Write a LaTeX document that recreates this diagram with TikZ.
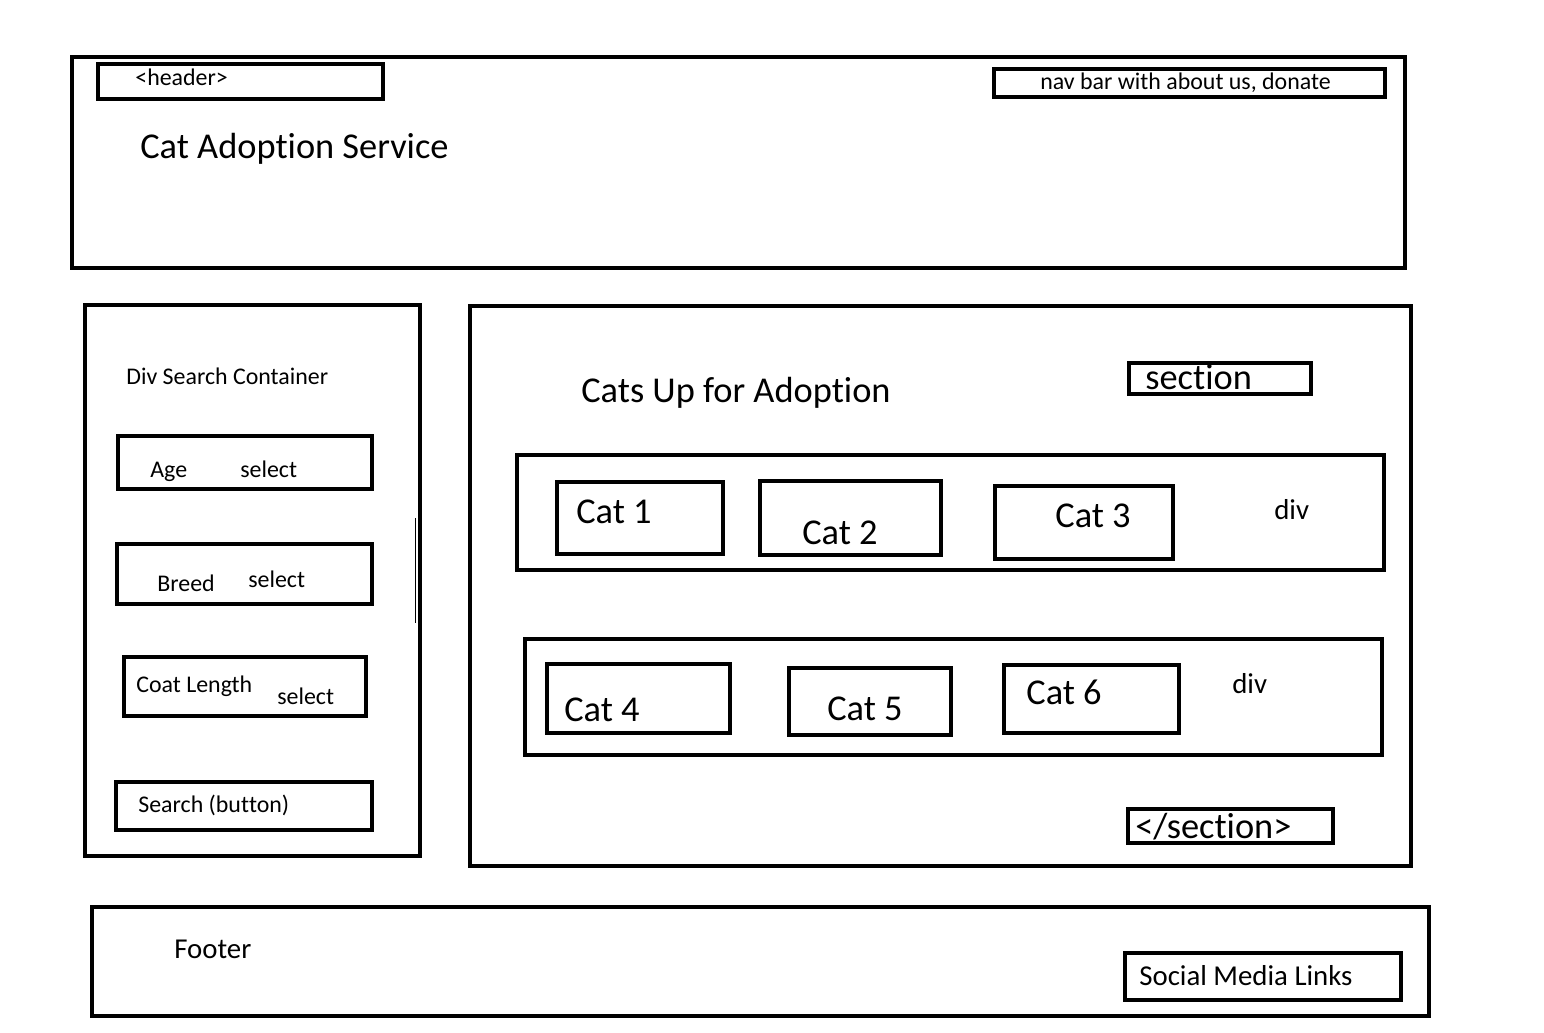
\documentclass[tikz,border=0pt]{standalone}
\usepackage{fontspec}
\setmainfont{Carlito}[RawFeature={-liga;-clig;-calt;-dlig}]
\newcommand{\nolig}{\kern0pt}
\begin{document}
\begin{tikzpicture}[x=0.02cm, y=-0.02cm,
        box/.style={line width=2.6pt},
        txts/.style={anchor=base west, inner sep=0pt, font=\fontsize{13.6}{16}\selectfont},
        txtm/.style={anchor=base west, inner sep=0pt, font=\fontsize{16.4}{19}\selectfont},
        txtl/.style={anchor=base west, inner sep=0pt, font=\fontsize{20.7}{24}\selectfont}]
        \useasboundingbox (0, 0) rectangle (1544, 1033);

        % header
        \draw[box] (72, 57) rectangle (1405, 268);
        \draw[box] (98, 64) rectangle (383, 99);
        \draw[box] (994, 69) rectangle (1385, 97);
        \node[txts] (H1) at (135, 86) {<header>};
        \node[txts] (H2) at (1040, 90) {nav bar with about us, donate};
        \node[txtl] (H3) at (140, 159) {Cat Adopt\nolig ion Service};

        % search container
        \draw[box] (85, 305) rectangle (420, 856);
        \draw[line width=0.6pt] (415.5, 518) -- (415.5, 623);
        \draw[box] (118, 436) rectangle (372, 489);
        \draw[box] (117, 544) rectangle (372, 604);
        \draw[box] (124, 657) rectangle (366, 716);
        \draw[box] (116, 782) rectangle (372, 830);
        \node[txts] (S0) at (126, 385) {Div Search Container};
        \node[txts] (S1) at (150, 478) {Age};
        \node[txts] (S2) at (240, 478) {select};
        \node[txts] (S3) at (157, 591) {Breed};
        \node[txts] (S4) at (248, 587) {select};
        \node[txts] (S5) at (136, 692) {Coat Length};
        \node[txts] (S6) at (277, 704) {select};
        \node[txts] (S7) at (138, 812) {Search (but\nolig ton)};

        % section
        \draw[box] (470, 306) rectangle (1411, 866);
        \draw[box] (1129, 363) rectangle (1311, 394);
        \draw[box] (1128, 809) rectangle (1333, 843);
        \node[txtl] (C0) at (581, 403) {Cats Up for Adopt\nolig ion};
        \node[txtl] (C7) at (1145, 390) {sect\nolig ion};
        \node[txtl] (C8) at (1135, 838) {</sect\nolig ion>};

        \draw[box] (517, 455) rectangle (1384, 570);
        \draw[box] (557, 482) rectangle (723, 554);
        \draw[box] (760, 481) rectangle (941, 555);
        \draw[box] (995, 486) rectangle (1173, 559);
        \node[txtl] (C1) at (576, 523) {Cat 1};
        \node[txtl] (C2) at (802, 544) {Cat 2};
        \node[txtl] (C3) at (1055, 527) {Cat 3};
        \node[txtm] (D1) at (1274, 519) {div};

        \draw[box] (525, 639) rectangle (1382, 755);
        \draw[box] (547, 664) rectangle (730, 733);
        \draw[box] (789, 668) rectangle (951, 735);
        \draw[box] (1004, 665) rectangle (1179, 733);
        \node[txtl] (C4) at (564, 721) {Cat 4};
        \node[txtl] (C5) at (827, 720) {Cat 5};
        \node[txtl] (C6) at (1026, 704) {Cat 6};
        \node[txtm] (D2) at (1232, 693) {div};

        % footer
        \draw[box] (92, 907) rectangle (1429, 1016);
        \draw[box] (1125, 953) rectangle (1401, 1000);
        \node[txtm] (F1) at (174, 958) {Footer};
        \node[txtm] (F2) at (1139, 985) {Social Media Links};
    \end{tikzpicture}
\end{document}
